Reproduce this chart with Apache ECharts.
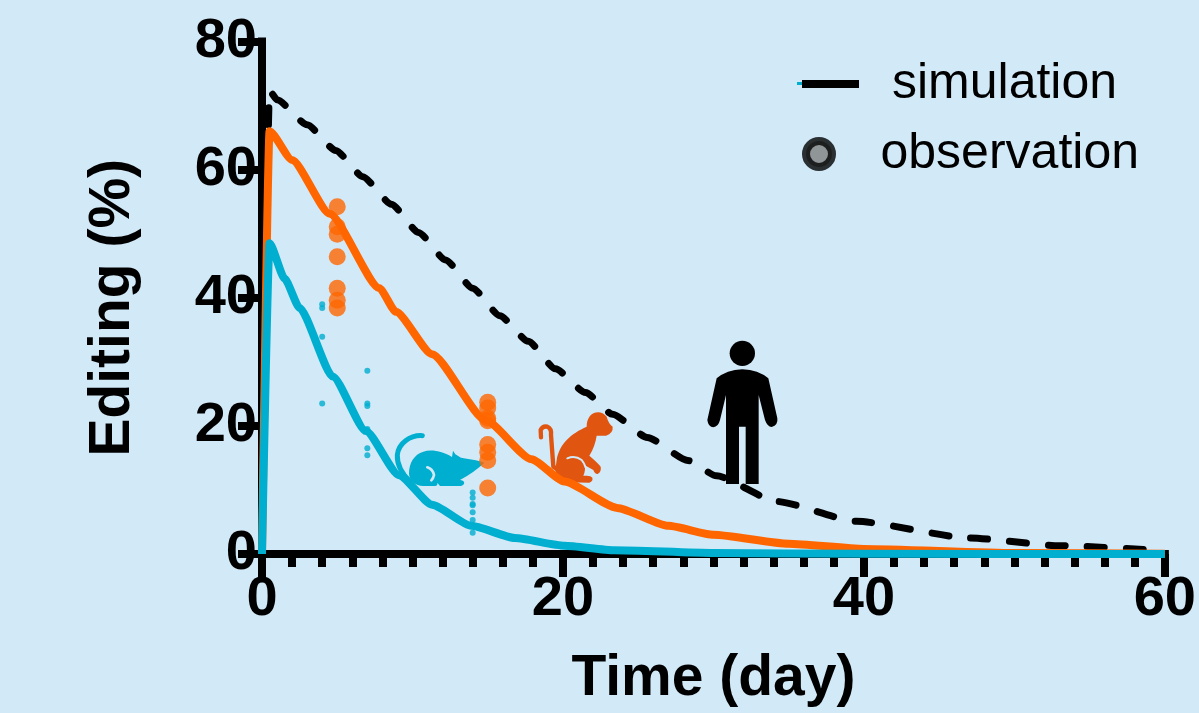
<!DOCTYPE html>
<html><head><meta charset="utf-8">
<style>html,body{margin:0;padding:0;background:#d2e9f8}#c{width:1199px;height:713px}</style>
<script src="https://cdn.jsdelivr.net/npm/echarts@6/dist/echarts.min.js"></script>
</head><body><div id="c"></div>
<script>
const simHuman=[[0,0],[0.5,72.3],[1,70.9],[3,67],[4.9,63],[6.7,58.9],[8.6,54.6],[10.4,50.2],[12.2,45.9],[14,41.5],[15.8,37.2],[17.7,33.2],[19.5,28.9],[21.5,25.2],[23.3,21.8],[25.6,18.2],[28.3,14.6],[30.2,12.2],[34.2,8.2],[39.5,5.1],[47,2.5],[53,1.3],[60,0.5]];
const simMonkey=[[0,0],[0.5,66],[2,61.5],[4.5,53.1],[7.8,41.5],[8.9,37.8],[11.3,31.2],[14.85,20.9],[17.9,14.8],[20.1,11.3],[23.6,7.2],[27,4.4],[30,3],[35,1.6],[40,0.8],[50,0.15],[60,0.02]];
const simMouse=[[0,0],[0.5,48.5],[1.5,43],[2.5,38.4],[4.7,27.7],[6.9,19.2],[9.1,12.3],[11.3,7.7],[13.9,4.4],[16.8,2.5],[20.1,1.3],[23.4,0.6],[30,0.15],[40,0.02],[60,0]];
const obsMonkey=[[5,54.2],[5,51.1],[5,49.9],[5,46.4],[5,41.5],[5,39.6],[5,38.4],[15,23.7],[15,22.8],[15,21.2],[15,20.8],[15,17.1],[15,15.9],[15,14.6],[15,10.3]];
const obsMouse=[[4,39],[4,38.4],[4,33.9],[4,23.5],[7,28.6],[7,23.5],[7,23.1],[7,19.5],[7,19.1],[7,16.5],[7,15.4],[14,9.6],[14,8.8],[14,7.8],[14,7.6],[14,6.5],[14,5.3],[14,3.3]];
const xTicks={min:0,max:60,interval:20};
const yTicks={min:0,max:80,interval:20};
const BG='#d2e9f8',ORANGE='#ff6600',TEAL='#00aecf',MONKEY='#e0550f',FONT='"Liberation Sans",Arial,sans-serif';
const iconPaths={
 mouseTail:'M97 32 C60 30 25 55 22 90 C20 125 40 150 62 172',
 mouseBody:'M283 113 C262 104 235 103 213 98 L196 88 L189 77 L186 96 C160 80 125 72 100 80 C72 88 57 115 57 145 C57 165 75 183 100 183 L135 183 Q144 181 142 173 L150 183 L213 183 Q225 178 222 170 Q218 165 210 165 Q255 140 283 113 Z',
 mouseNotch:'M112 127 Q128 132 132 150 Q130 160 124 166',
 monkeyTail:'M33 97 L32 75 Q38 62 52 65 Q65 70 63 90 L70 185 L85 195',
 monkeyBody:'M205 22 C183 22 170 40 170 65 C125 85 88 115 80 165 L76 195 Q78 222 115 232 L178 233 Q190 228 187 218 Q183 212 170 212 L160 212 Q168 195 163 180 L190 195 Q195 208 203 207 Q215 200 212 185 Q205 175 178 152 Q195 125 200 92 L228 92 Q250 85 248 65 Q235 55 230 35 Q218 22 205 22 Z',
 monkeyNotch:'M112 160 Q135 150 155 165 Q165 178 166 186',
 humanBody:'M187 118 Q140 120 110 145 L82 270 Q85 292 100 292 Q115 290 120 270 L138 195 L138 462 L177 462 L177 290 L197 290 L197 462 L236 462 L236 195 L255 270 Q262 290 275 291 Q295 285 292 265 L265 145 Q235 120 187 118 Z'
};
Object.keys(iconPaths).forEach(k=>echarts.graphic.registerShape(k,echarts.graphic.extendPath(iconPaths[k],{})));
const chart=echarts.init(document.getElementById('c'),null,{renderer:'canvas'});
const axisBase={axisLine:{show:true,onZero:false,lineStyle:{color:'#000',width:8,cap:'square'}},splitLine:{show:false},
 axisLabel:{color:'#000',fontFamily:FONT,fontWeight:'bold',fontSize:56},
 nameTextStyle:{color:'#000',fontFamily:FONT,fontWeight:'bold',fontSize:57}};
function line(name,data,color,extra){return Object.assign({type:'line',name,data,showSymbol:false,symbol:'none',clip:false,smooth:0.2,smoothMonotone:'x',silent:true,
 lineStyle:Object.assign({color,width:8,join:'miter',cap:'butt'},extra||{}),itemStyle:{color}});}
function ic(pos,children){return {type:'group',x:pos[0],y:pos[1],scaleX:1/3,scaleY:1/3,z:10,silent:true,children};}
function p(t,style){return {type:t,style};}
chart.setOption({
 backgroundColor:BG,animation:false,
 grid:{left:262,right:28,top:41.5,bottom:149.5,containLabel:false},
 xAxis:Object.assign({},axisBase,xTicks,{type:'value',name:'Time (day)',nameLocation:'middle',nameGap:97,
  axisTick:{show:true,length:23,lineStyle:{color:'#000',width:8}},
  minorTick:{show:true,splitNumber:10,length:13,lineStyle:{color:'#000',width:8}},
  axisLabel:Object.assign({},axisBase.axisLabel,{margin:18,showMaxLabel:true,showMinLabel:true,hideOverlap:false})}),
 yAxis:Object.assign({},axisBase,yTicks,{type:'value',name:'Editing (%)',nameLocation:'middle',nameGap:120,
  nameTextStyle:Object.assign({},axisBase.nameTextStyle,{padding:[0,20,0,0]}),
  axisTick:{show:true,length:24,lineStyle:{color:'#000',width:8}},
  axisLabel:Object.assign({},axisBase.axisLabel,{margin:5})}),
 legend:[
  {data:[{name:'simulation',icon:'rect',itemStyle:{color:'#000',borderWidth:0}}],left:797,top:54,itemWidth:57,itemHeight:8,selectedMode:false,
   textStyle:{color:'#000',fontFamily:FONT,fontSize:50,padding:[0,0,0,28]}},
  {data:[{name:'observation',icon:'circle',itemStyle:{color:'#808080',borderColor:'#000',borderWidth:8}}],left:797,top:124,itemWidth:57,itemHeight:26,selectedMode:false,
   textStyle:{color:'#000',fontFamily:FONT,fontSize:50,padding:[0,0,0,28]}}
 ],
 graphic:[
  {type:'rect',x:797,y:82,shape:{width:57,height:3},style:{fill:TEAL},z:1,silent:true},
  ic([390,425],[
   p('mouseTail',{fill:'none',stroke:TEAL,lineWidth:15,lineCap:'round'}),
   p('mouseBody',{fill:TEAL}),
   p('mouseNotch',{fill:'none',stroke:BG,lineWidth:8,lineCap:'round'})
  ]),
  ic([530,405],[
   p('monkeyTail',{fill:'none',stroke:MONKEY,lineWidth:13,lineCap:'round',lineJoin:'round'}),
   p('monkeyBody',{fill:MONKEY}),
   p('monkeyNotch',{fill:'none',stroke:BG,lineWidth:6,lineCap:'round'})
  ]),
  ic([680,330],[
   {type:'circle',shape:{cx:187,cy:70,r:38},style:{fill:'#000'}},
   p('humanBody',{fill:'#000'})
  ])
 ],
 series:[
  line('simulation',simHuman,'#000',{width:7,cap:'round',type:[17,22],dashOffset:0}),
  line('Monkey simulation',simMonkey,ORANGE),
  {type:'scatter',name:'observation',data:obsMonkey,symbol:'circle',symbolSize:17,itemStyle:{color:ORANGE},clip:false,silent:true,z:3},
  line('Mouse simulation',simMouse,TEAL),
  {type:'scatter',name:'Mouse observation',data:obsMouse,symbol:'circle',symbolSize:6,itemStyle:{color:TEAL},clip:false,silent:true,z:3}
 ]
});
</script></body></html>
